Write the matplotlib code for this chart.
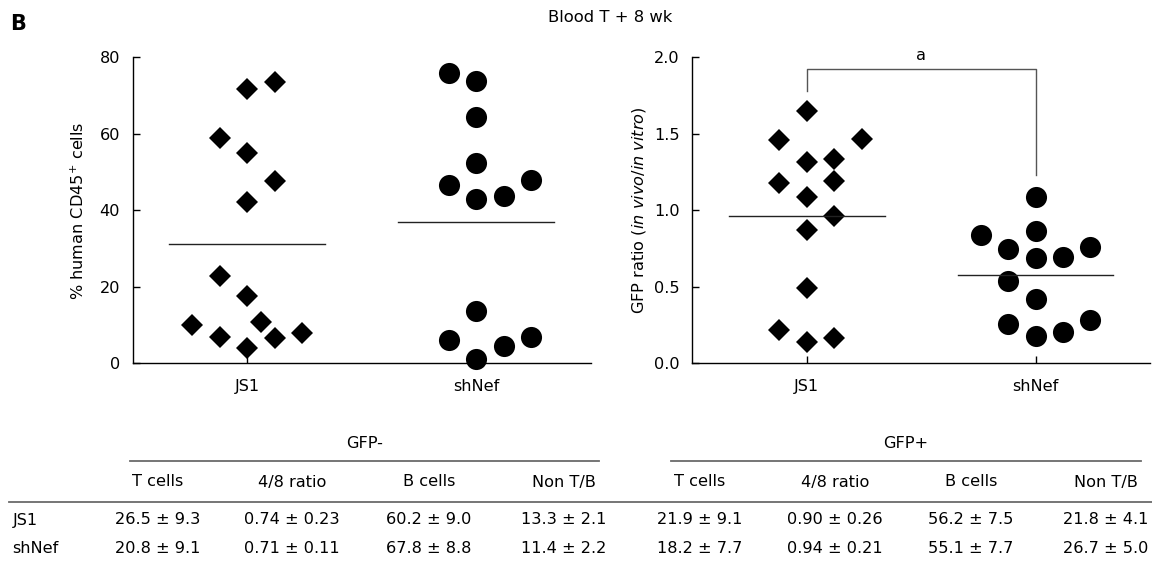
import matplotlib
matplotlib.use("Agg")
import matplotlib.pyplot as plt

plt.rcParams['font.family'] = ['DejaVu Sans']
plt.rcParams['mathtext.fontset'] = 'custom'
plt.rcParams['mathtext.rm'] = 'DejaVu Sans'
plt.rcParams['mathtext.it'] = 'DejaVu Sans:italic'

# ---------------- data ----------------
groups = ["JS1", "shNef"]

cd45_js1 = [71.8, 73.5, 58.9, 55.0, 47.7, 42.2, 22.7, 17.6, 10.0, 10.7, 7.0, 6.7, 7.8, 3.9]
cd45_js1_off = [0, 0.12, -0.12, 0, 0.12, 0, -0.12, 0, -0.24, 0.06, -0.12, 0.12, 0.24, 0]
cd45_shnef = [76.0, 73.8, 64.3, 52.3, 46.6, 42.9, 43.8, 47.9, 13.7, 6.1, 7.0, 4.4, 1.0]
cd45_shnef_off = [-0.12, 0, 0, 0, -0.12, 0, 0.12, 0.24, 0, -0.12, 0.24, 0.12, 0]
cd45_means = [31.1, 36.9]

gfp_js1 = [1.649, 1.460, 1.464, 1.314, 1.336, 1.176, 1.194, 1.085, 0.965, 0.871, 0.490, 0.218, 0.142, 0.163]
gfp_js1_off = [0, -0.12, 0.24, 0, 0.12, -0.12, 0.12, 0, 0.12, 0, 0, -0.12, 0, 0.12]
gfp_shnef = [1.089, 0.839, 0.867, 0.745, 0.691, 0.697, 0.763, 0.538, 0.418, 0.255, 0.179, 0.207, 0.283]
gfp_shnef_off = [0, -0.24, 0, -0.12, 0, 0.12, 0.24, -0.12, 0, -0.12, 0, 0.12, 0.24]
gfp_means = [0.963, 0.58]

sig_label = "a"
sig_bracket = [1.922, 1.78, 1.231]  # bar level, left leg end, right leg end

table_groups = ["GFP-", "GFP+"]
table_cols = ["T cells", "4/8 ratio", "B cells", "Non T/B"]
table_rows = ["JS1", "shNef"]
table_vals = [
    ["26.5 ± 9.3", "0.74 ± 0.23", "60.2 ± 9.0", "13.3 ± 2.1",
     "21.9 ± 9.1", "0.90 ± 0.26", "56.2 ± 7.5", "21.8 ± 4.1"],
    ["20.8 ± 9.1", "0.71 ± 0.11", "67.8 ± 8.8", "11.4 ± 2.2",
     "18.2 ± 7.7", "0.94 ± 0.21", "55.1 ± 7.7", "26.7 ± 5.0"],
]

# ---------------- figure ----------------
W, H = 1152, 562
fig = plt.figure(figsize=(W / 100, H / 100), dpi=100)
FS = 11.6

def px_axes(x0, y0, x1, y1):
    return fig.add_axes([x0 / W, 1 - y1 / H, (x1 - x0) / W, (y1 - y0) / H])

axL = px_axes(132.5, 57.3, 591, 363.3)
axR = px_axes(692.3, 57.3, 1150, 363.3)

DIAM = dict(marker='D', ms=11.7, color='black', mew=0, ls='none', clip_on=False)
CIRC = dict(marker='o', ms=15.2, color='black', mew=0, ls='none', clip_on=False)

def style(ax, ylim, yticks, fmt):
    ax.set_xlim(-0.5, 1.5)
    ax.set_ylim(*ylim)
    ax.set_xticks([0, 1])
    ax.set_xticklabels(groups)
    ax.set_yticks(yticks)
    ax.set_yticklabels([fmt.format(v) for v in yticks])
    for s in ['top', 'right']:
        ax.spines[s].set_visible(False)
    for s in ['left', 'bottom']:
        ax.spines[s].set_linewidth(1.0)
    ax.tick_params(axis='both', direction='in', length=5, width=1, labelsize=FS)
    ax.tick_params(axis='y', pad=9)
    ax.tick_params(axis='x', pad=11)

# left panel
axL.plot([0 + o for o in cd45_js1_off], cd45_js1, **DIAM)
axL.plot([1 + o for o in cd45_shnef_off], cd45_shnef, **CIRC)
for i, m in enumerate(cd45_means):
    axL.plot([i - 0.34, i + 0.34], [m, m], color='#222222', lw=1.0)
style(axL, (0, 80), [0, 20, 40, 60, 80], "{:.0f}")
axL.set_ylabel("% human CD45$^{+}$ cells", fontsize=FS)
axL.yaxis.set_label_coords(-0.099, 0.5)

# right panel
axR.plot([0 + o for o in gfp_js1_off], gfp_js1, **DIAM)
axR.plot([1 + o for o in gfp_shnef_off], gfp_shnef, **CIRC)
for i, m in enumerate(gfp_means):
    axR.plot([i - 0.34, i + 0.34], [m, m], color='#222222', lw=1.0)
style(axR, (0, 2.0), [0.0, 0.5, 1.0, 1.5, 2.0], "{:.1f}")
axR.set_ylabel(r"GFP ratio ($\mathit{in\ vivo/in\ vitro}$)", fontsize=FS)
axR.yaxis.set_label_coords(-0.097, 0.5)

# significance bracket
top, l_end, r_end = sig_bracket
axR.plot([0, 0, 1, 1], [l_end, top, top, r_end], color='#555555', lw=1.0, clip_on=False)
axR.text(0.5, 2.01, sig_label, ha='center', va='center', fontsize=FS, clip_on=False)

# title and panel letter
fig.text(610 / W, 1 - 18 / H, "Blood T + 8 wk", ha='center', va='center', fontsize=11.8)
fig.text(10 / W, 1 - 24 / H, "B", ha='left', va='center', fontsize=15, fontweight='bold')

# ---------------- table ----------------
tab = fig.add_axes([0, 0, 1, 1])
tab.set_xlim(0, W)
tab.set_ylim(H, 0)
tab.axis('off')

col_x = [158, 292, 429, 564, 700, 835, 971, 1106]
group_spans = [(130, 599), (671, 1141)]
line_col = '#6a6a6a'
for g, (a, b) in zip(table_groups, group_spans):
    tab.text((a + b) / 2, 444, g, ha='center', va='center', fontsize=FS)
    tab.plot([a, b], [461, 461], color=line_col, lw=1.3)
for j, x in enumerate(col_x):
    tab.text(x, 482, table_cols[j % 4], ha='center', va='center', fontsize=FS)
tab.plot([9, W], [501.5, 501.5], color=line_col, lw=1.3)
row_y = [520, 548.5]
for r, lab in enumerate(table_rows):
    tab.text(12.5, row_y[r], lab, ha='left', va='center', fontsize=FS)
    for j, x in enumerate(col_x):
        tab.text(x, row_y[r], table_vals[r][j], ha='center', va='center', fontsize=FS)

fig.savefig("out.png", dpi=100)
